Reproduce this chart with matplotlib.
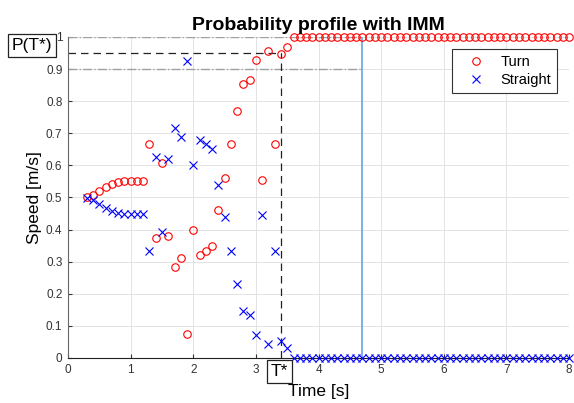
import numpy as np
import matplotlib
matplotlib.use("Agg")
from matplotlib import pyplot as plt

plt.rcParams['font.family'] = ['Liberation Sans', 'DejaVu Sans']

# time axis of the IMM run (s)
time = np.round(np.arange(0.3, 8.05, 0.1), 1)

# mode probabilities
turn = [0.502, 0.509, 0.520, 0.532, 0.542, 0.547, 0.550, 0.550, 0.551, 0.551,
        0.668, 0.373, 0.606, 0.381, 0.285, 0.310, 0.075, 0.398, 0.322, 0.333,
        0.348, 0.462, 0.562, 0.668, 0.768, 0.855, 0.865, 0.927, 0.553, 0.957,
        0.668, 0.948, 0.969] + [1.0] * 45
straight = [0.498, 0.491, 0.480, 0.468, 0.458, 0.453, 0.450, 0.450, 0.449, 0.449,
            0.332, 0.627, 0.394, 0.619, 0.715, 0.690, 0.925, 0.602, 0.678, 0.667,
            0.652, 0.538, 0.438, 0.332, 0.232, 0.145, 0.135, 0.073, 0.447, 0.043,
            0.332, 0.052, 0.031] + [0.0] * 45

t_star = 3.4
p_star = 0.949
t_end = 4.7
thresholds = [0.9, 1.0]

fig = plt.figure(figsize=(5.74, 4.03), dpi=100)
ax = fig.add_axes([0.1185, 0.1117, 0.8730, 0.7965])

ax.grid(True, color='#e3e3e3', linewidth=0.7)
ax.set_axisbelow(True)

for th in thresholds:
	ax.plot([0, t_end], [th, th], color='#a0a0a0', linestyle='-.', linewidth=1.0, zorder=2)
ax.plot([t_end, t_end], [0, 1], color='#6fadde', linewidth=1.3, zorder=2)
ax.plot([0, t_star], [p_star, p_star], color='#222222', linestyle=(0, (6, 4)), linewidth=0.9, zorder=2)
ax.plot([t_star, t_star], [0, p_star], color='#222222', linestyle=(0, (6, 4)), linewidth=0.9, zorder=2)

ax.plot(time, turn, 'o', markerfacecolor='none', markeredgecolor='red', markersize=5.4,
	markeredgewidth=0.8, linestyle='none', label='Turn', zorder=3, clip_on=False)
ax.plot(time, straight, 'x', color='blue', markersize=5.4, markeredgewidth=0.8,
	linestyle='none', label='Straight', zorder=3, clip_on=False)

ax.set_xlim(0, 8)
ax.set_ylim(0, 1)
ax.set_xticks(range(9))
ax.set_yticks(np.round(np.arange(0, 1.01, 0.1), 1))
ax.set_yticklabels(['0', '0.1', '0.2', '0.3', '0.4', '0.5', '0.6', '0.7', '0.8', '0.9', '1'])
ax.tick_params(direction='in', length=3, labelsize=8.5, colors='#333333', pad=4)
ax.spines['top'].set_visible(False)
ax.spines['right'].set_visible(False)
ax.spines['left'].set_color('#666666')
ax.spines['bottom'].set_color('#222222')

ax.set_title('Probability profile with IMM', fontsize=14, fontweight='bold', pad=5)
ax.set_xlabel('Time [s]', fontsize=12.5, labelpad=6)
ax.set_ylabel('Speed [m/s]', fontsize=12.5, labelpad=3)

box = dict(boxstyle='square,pad=0.22', facecolor='white', edgecolor='#222222', linewidth=0.9)
ax.text(-0.57, 0.973, 'P(T*)', fontsize=12.5, ha='center', va='center', bbox=box, clip_on=False)
ax.text(3.37, -0.042, 'T*', fontsize=12.5, ha='center', va='center', bbox=box, clip_on=False)

leg = ax.legend(loc='upper right', bbox_to_anchor=(0.976, 0.963), borderaxespad=0, fontsize=10.5,
	fancybox=False, framealpha=1, edgecolor='#333333', borderpad=0.4, handletextpad=0.35,
	labelspacing=0.3, handlelength=2.6)
leg.get_frame().set_linewidth(0.8)

plt.savefig('out.png', dpi=100)
